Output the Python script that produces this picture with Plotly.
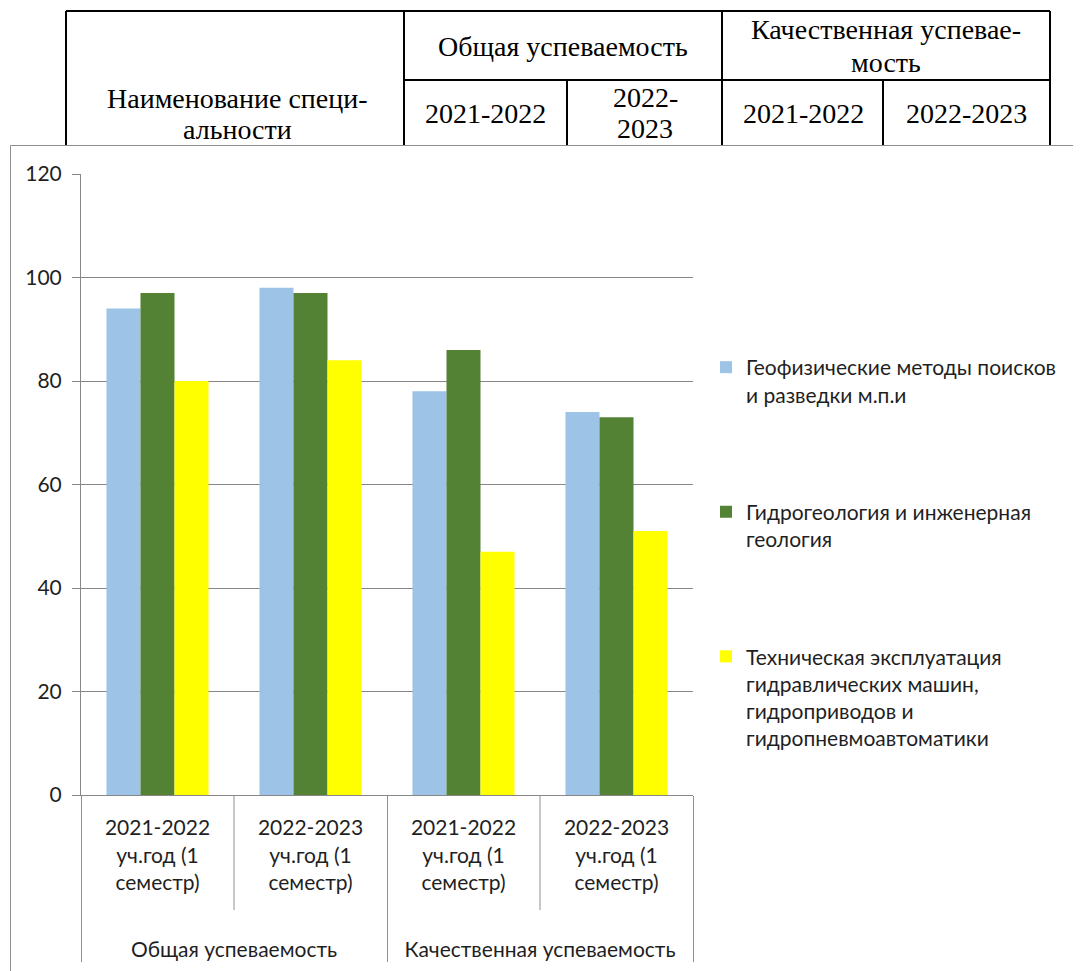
import plotly.graph_objects as go

# page body has an 8px margin: the figure is drawn at (8, 8) in the window
OFF = 8
W, H = 1081 - OFF, 971 - OFF

# ---------------- data ----------------
groups = ["Общая успеваемость", "Общая успеваемость",
          "Качественная успеваемость", "Качественная успеваемость"]
periods = ["2021-2022<br>уч.год (1<br>семестр)", "2022-2023<br>уч.год (1<br>семестр)",
           "2021-2022<br>уч.год (1<br>семестр)", "2022-2023<br>уч.год (1<br>семестр)"]
series_names = [
    "Геофизические методы поисков<br>и разведки м.п.и",
    "Гидрогеология и инженерная<br>геология",
    "Техническая эксплуатация<br>гидравлических машин,<br>гидроприводов и<br>гидропневмоавтоматики",
]
geo_values = [94, 98, 78, 74]
hydro_values = [97, 97, 86, 73]
tech_values = [80, 84, 47, 51]
y_ticks = [0, 20, 40, 60, 80, 100, 120]

# table header texts (document table behind the chart)
table_texts = [
    ("Наименование специ-", 237, 99),
    ("альности", 237, 130),
    ("Общая успеваемость", 563, 46),
    ("Качественная успевае-", 886, 29),
    ("мость", 886, 62),
    ("2021-2022", 485, 114),
    ("2022-", 645, 97),
    ("2023", 645, 129),
    ("2021-2022", 803, 114),
    ("2022-2023", 966, 114),
]

# ---------------- styles ----------------
colors = ["#9DC3E6", "#548235", "#FFFF00"]
chart_font = "Lato"
text_color = "#1f1f1f"
grid_color = "#878787"
divider_color = "#8f8f8f"


def fx(px):
    return (px - OFF) / W


def fy(py):
    return 1 - (py - OFF) / H


# pad inner labels with blank lines so that group labels sit lower
periods_padded = [p + "<br> <br> " for p in periods]

fig = go.Figure()
for name, vals, col in zip(series_names, [geo_values, hydro_values, tech_values], colors):
    fig.add_trace(go.Bar(
        x=[groups, periods_padded], y=vals, name=name, legendgroup=name,
        marker=dict(color=col, line=dict(width=0)),
    ))

x_dom = [fx(81), fx(693)]
y_dom = [fy(795), fy(174)]

shapes = []
# table lines
tl = dict(type="line", xref="paper", yref="paper", line=dict(color="black", width=2), layer="below")
shapes.append(dict(tl, x0=fx(66), x1=fx(1050), y0=fy(11), y1=fy(11)))
shapes.append(dict(tl, x0=fx(404), x1=fx(1050), y0=fy(80), y1=fy(80)))
for xv, ytop in [(66, 11), (404, 11), (722, 11), (1050, 11), (567, 80), (883, 80)]:
    shapes.append(dict(tl, x0=fx(xv), x1=fx(xv), y0=fy(ytop), y1=fy(160)))
# chart frame (covers the table)
shapes.append(dict(type="rect", xref="paper", yref="paper",
                   x0=fx(10.5), x1=fx(1100), y0=fy(145.5), y1=fy(1000),
                   fillcolor="white", line=dict(color=divider_color, width=1), layer="below"))
# inner category dividers (between sub-categories of the same group)
n = len(periods)
for i in range(1, n):
    if groups[i] == groups[i - 1]:
        xv = x_dom[0] + (x_dom[1] - x_dom[0]) * i / n
        shapes.append(dict(type="line", xref="paper", yref="paper",
                           x0=xv, x1=xv, y0=y_dom[0], y1=fy(910),
                           line=dict(color=divider_color, width=1), layer="above"))

annotations = [
    dict(text=t, x=fx(xc), y=fy(yc), xref="paper", yref="paper",
         xanchor="center", yanchor="middle", showarrow=False,
         font=dict(family="Liberation Serif", size=28, color="black"))
    for t, xc, yc in table_texts
]

fig.update_layout(
    width=W, height=H,
    margin=dict(l=0, r=0, t=0, b=0, autoexpand=False),
    paper_bgcolor="white",
    plot_bgcolor="rgba(0,0,0,0)",
    barmode="group",
    bargap=0.333,
    bargroupgap=0,
    font=dict(family=chart_font, size=21, color=text_color),
    xaxis=dict(
        type="multicategory", domain=x_dom, automargin=False,
        showgrid=False, showline=True, linecolor=grid_color, linewidth=1,
        showdividers=True, dividercolor=divider_color, dividerwidth=1,
        ticks="", ticklabelstandoff=14,
        tickfont=dict(family=chart_font, size=21, color=text_color),
    ),
    yaxis=dict(
        domain=y_dom, range=[0, 120], tickvals=y_ticks, automargin=False,
        showgrid=True, gridcolor=grid_color, gridwidth=1,
        showline=True, linecolor=grid_color, linewidth=1,
        ticks="outside", ticklen=8, tickcolor=grid_color,
        zeroline=False, ticklabelstandoff=6,
        tickfont=dict(family=chart_font, size=21, color=text_color),
    ),
    legend=dict(
        x=fx(706), y=fy(347), xanchor="left", yanchor="top",
        valign="top", tracegroupgap=87,
        font=dict(family=chart_font, size=21, color=text_color),
        bgcolor="rgba(0,0,0,0)",
    ),
    shapes=shapes,
    annotations=annotations,
)

fig.write_html("out.html")
